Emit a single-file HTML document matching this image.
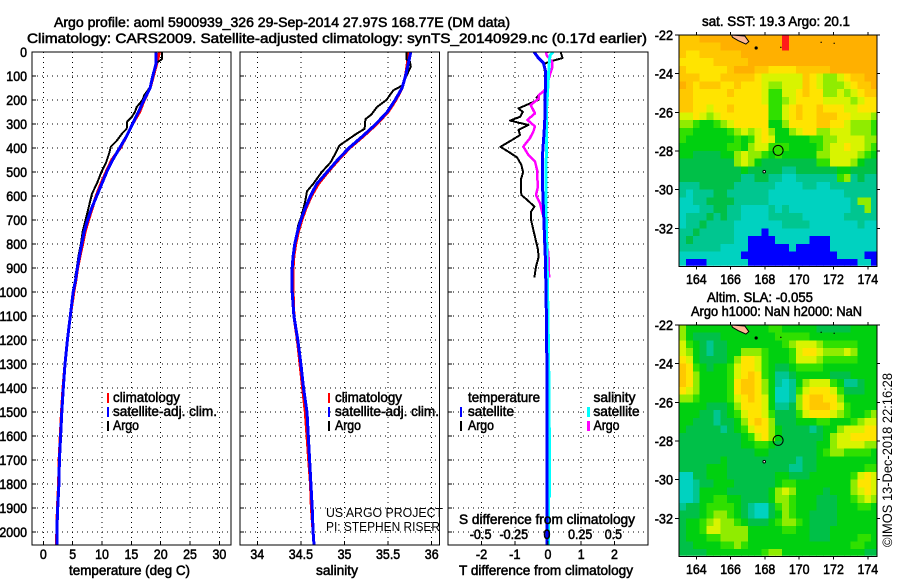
<!DOCTYPE html>
<html lang="en">
<head>
<meta charset="utf-8">
<title>Argo profile chart</title>
<style>
html,body{margin:0;padding:0;background:#fff;}
svg{display:block;}
text{font-family:"Liberation Sans",sans-serif;font-size:14px;fill:#000;stroke:#000;stroke-width:.55px;}
text.thin{stroke:none;font-size:13px;}
</style>
</head>
<body>
<svg id="chart" xmlns="http://www.w3.org/2000/svg" width="900" height="580" viewBox="0 0 900 580">
<defs>
<clipPath id="clip-p1"><rect x="32" y="52" width="199" height="493"/></clipPath>
<clipPath id="clip-p2"><rect x="240" y="52" width="199.5" height="493"/></clipPath>
<clipPath id="clip-p3"><rect x="448" y="52" width="200" height="493"/></clipPath>
<clipPath id="clip-m1"><rect x="679.5" y="35" width="197.2" height="230.7"/></clipPath>
<clipPath id="clip-m2"><rect x="679.5" y="325" width="197.2" height="230.7"/></clipPath>
</defs>
<g id="layer-maps"></g>
<g id="layer-grid"></g>
<g id="layer-series"></g>
<g id="layer-axes"></g>

<text x="54" y="27" textLength="456" lengthAdjust="spacingAndGlyphs">Argo profile: aoml 5900939_326 29-Sep-2014 27.97S 168.77E (DM data)</text>
<text x="27" y="43" textLength="620" lengthAdjust="spacingAndGlyphs">Climatology: CARS2009. Satellite-adjusted climatology: synTS_20140929.nc (0.17d earlier)</text>

<text x="69" y="575" textLength="121" lengthAdjust="spacingAndGlyphs">temperature (deg C)</text>
<text x="316" y="575" textLength="42" lengthAdjust="spacingAndGlyphs">salinity</text>
<text x="459" y="575" textLength="174" lengthAdjust="spacingAndGlyphs">T difference from climatology</text>
<text x="459" y="524" textLength="176" lengthAdjust="spacingAndGlyphs">S difference from climatology</text>

<g>
<rect x="107" y="393" width="2" height="10" fill="#ff0000"/>
<rect x="107" y="407" width="2" height="10" fill="#0000ff"/>
<rect x="107" y="421" width="2" height="10" fill="#000"/>
<text x="113" y="402" textLength="67" lengthAdjust="spacingAndGlyphs">climatology</text>
<text x="113" y="416" textLength="104" lengthAdjust="spacingAndGlyphs">satellite-adj. clim.</text>
<text x="113" y="430" textLength="26" lengthAdjust="spacingAndGlyphs">Argo</text>
</g>
<g>
<rect x="328" y="393" width="2" height="10" fill="#ff0000"/>
<rect x="328" y="407" width="2" height="10" fill="#0000ff"/>
<rect x="328" y="421" width="2" height="10" fill="#000"/>
<text x="335" y="402" textLength="67" lengthAdjust="spacingAndGlyphs">climatology</text>
<text x="335" y="416" textLength="104" lengthAdjust="spacingAndGlyphs">satellite-adj. clim.</text>
<text x="335" y="430" textLength="26" lengthAdjust="spacingAndGlyphs">Argo</text>
</g>
<text class="thin" x="326" y="517" textLength="117" lengthAdjust="spacingAndGlyphs">US ARGO PROJECT</text>
<text class="thin" x="326" y="531" textLength="114" lengthAdjust="spacingAndGlyphs">PI: STEPHEN RISER</text>

<g>
<text x="468" y="402" textLength="72" lengthAdjust="spacingAndGlyphs">temperature</text>
<rect x="460" y="407" width="2" height="10" fill="#0000ff"/>
<text x="468" y="416" textLength="46" lengthAdjust="spacingAndGlyphs">satellite</text>
<rect x="460" y="421" width="2" height="10" fill="#000"/>
<text x="468" y="430" textLength="26" lengthAdjust="spacingAndGlyphs">Argo</text>
<text x="593.5" y="402" textLength="42" lengthAdjust="spacingAndGlyphs">salinity</text>
<rect x="587" y="407" width="3" height="10" fill="#00ffff"/>
<text x="593.5" y="416" textLength="46" lengthAdjust="spacingAndGlyphs">satellite</text>
<rect x="587" y="421" width="3" height="10" fill="#ff00ff"/>
<text x="593.5" y="430" textLength="26" lengthAdjust="spacingAndGlyphs">Argo</text>
</g>

<text x="702" y="26" textLength="148" lengthAdjust="spacingAndGlyphs">sat. SST: 19.3 Argo: 20.1</text>
<text x="707" y="302" textLength="106" lengthAdjust="spacingAndGlyphs">Altim. SLA: -0.055</text>
<text x="691" y="316" textLength="171" lengthAdjust="spacingAndGlyphs">Argo h1000: NaN h2000: NaN</text>
<text class="thin" transform="translate(892 547) rotate(-90)" textLength="174" lengthAdjust="spacingAndGlyphs" style="font-size:14px">©IMOS 13-Dec-2018 22:16:28</text>
</svg>

<script>
// ---------- axis tick labels ----------
const depthTicks = [0,100,200,300,400,500,600,700,800,900,1000,1100,1200,1300,1400,1500,1600,1700,1800,1900,2000];
const tempTicks = [0,5,10,15,20,25,30];
const salTicks = [34,34.5,35,35.5,36];
const tDiffTicks = [-2,-1,0,1,2];
const sDiffTicks = [-0.5,-0.25,0,0.25,0.5];
const lonTicks = [164,166,168,170,172,174];
const latTicks = [-22,-24,-26,-28,-30,-32];

// ---------- temperature / salinity profiles ----------
const argoDepth = [0,30,45,50,100,150,180,200,230,250,270,290,320,340,370,395,420,460,500,550,590,640,690,750,800,850,900,940];
const argoTemp = [20.2,20.2,19.3,19.2,18.75,18.1,17.2,16.9,15.9,15.6,15.1,14.3,14.2,13.4,12.5,11.5,11.25,10.7,9.9,9.1,8.3,7.8,7.3,6.7,6.4,6.0,5.7,5.4];
const argoSalDepth = [0,30,40,60,100,140,160,180,200,230,260,280,320,340,360,390,420,460,500,550,580,620,680,720,780,850,900,930];
const argoSal = [35.71,35.71,35.75,35.76,35.71,35.66,35.56,35.52,35.48,35.37,35.31,35.24,35.23,35.14,35.06,34.94,34.9,34.84,34.74,34.64,34.57,34.55,34.51,34.47,34.44,34.41,34.405,34.4];

const climDepth = [0,50,100,150,200,250,300,350,400,450,500,550,600,650,700,750,800,850,900,950,1000,1100,1200,1300,1400,1500,1600,1700,1800,1900,2000,2054];
const climTemp = [19.8,19.3,18.75,18.2,17.2,16.4,15.2,14.2,13.1,11.65,10.7,9.8,9.0,8.35,7.7,7.1,6.7,6.25,5.85,5.55,5.2,4.6,4.1,3.7,3.35,3.1,2.9,2.7,2.6,2.4,2.3,2.25];
const satTemp = [19.2,19.2,18.65,18.2,17.15,16.2,15.2,14.2,13,11.8,10.8,9.95,9.1,8.25,7.55,6.95,6.55,6.15,5.8,5.5,5.1,4.6,4.1,3.7,3.4,3.15,2.95,2.75,2.65,2.45,2.3,2.3];
const climSal = [35.72,35.72,35.7,35.66,35.59,35.5,35.37,35.22,35.06,34.93,34.81,34.7,34.62,34.56,34.51,34.47,34.44,34.42,34.41,34.41,34.41,34.42,34.46,34.49,34.52,34.55,34.57,34.59,34.61,34.62,34.64,34.65];
const satSal = [35.76,35.73,35.7,35.66,35.58,35.49,35.36,35.21,35.05,34.92,34.8,34.68,34.61,34.55,34.5,34.46,34.43,34.41,34.4,34.4,34.4,34.42,34.465,34.5,34.53,34.57,34.585,34.6,34.615,34.63,34.64,34.65];

// ---------- difference panel ----------
const diffArgoDepth = [0,25,36,45,50,100,160,180,190,200,214,235,250,270,286,304,325,346,367,395,415,439,471,501,533,568,596,617,644,665,700,742,783,818,853,894,939];
const diffArgoT = [0.38,0.44,0.16,-0.04,-0.12,-0.08,-0.1,-0.29,-0.34,-0.29,-0.54,-0.89,-0.76,-0.84,-1.14,-0.59,-0.89,-0.84,-1.09,-1.43,-1.2,-0.93,-0.8,-0.75,-0.82,-0.82,-0.8,-0.62,-0.41,-0.51,-0.51,-0.44,-0.37,-0.31,-0.28,-0.36,-0.41];
const diffMagDepth = [0,14,40,68,103,144,158,180,193,221,256,283,310,331,359,394,428,456,497,567,596,631,686,728,783,839,939];
const diffMagS = [-0.015,-0.01,0.03,0.03,0.01,-0.01,-0.02,-0.07,-0.068,-0.13,-0.098,-0.155,-0.098,-0.11,-0.136,-0.186,-0.148,-0.098,-0.08,-0.078,-0.09,-0.06,-0.035,-0.022,-0.015,0.003,0.008];
const diffCyanDepth = [0,14,42,83,228,367,575,644,783,922,1100,1300,1500,1700,1850,1860,2054];
const diffCyanS = [0.04,0.015,0.01,0.005,-0.01,-0.012,-0.015,-0.015,-0.01,-0.005,0,0.005,0.008,0.012,0.012,0.004,0.004];
const diffBlueDepth = [0,25,45,76,158,297,436,575,714,853,992,1200,1500,1800,2054];
const diffBlueT = [-0.42,-0.29,-0.14,-0.08,-0.08,-0.1,-0.17,-0.16,-0.12,-0.08,-0.06,-0.04,-0.03,-0.03,-0.03];

// ---------- map grids (colour-level per 0.4 degree cell, rows north to south) ----------
const mapLonStart = 163;
const mapLatStart = -22;
const mapCellDeg = 0.4;
const levelColors = ['#0000ff','#00d2c0','#00c690','#00c048','#00d010','#30e000','#90ec00','#d8f400','#ffe400','#ffc800','#ffb000','#ff1a1a'];
const sstGrid = [
[9,9,9,10,10,10,10,10,10,10,10,10,10,10,10,11,10,10,10,10,10,10,10,10,10,10,10,10,10],
[9,9,9,9,9,9,10,10,10,10,10,10,10,10,10,11,10,10,10,10,10,10,10,10,10,10,10,10,10],
[9,8,8,9,9,9,9,9,9,10,10,10,10,10,10,10,10,10,10,10,10,10,10,10,10,10,10,10,10],
[8,8,8,8,8,9,9,9,9,9,10,10,10,10,10,10,10,10,10,10,10,10,10,10,10,10,10,10,10],
[9,8,8,8,8,8,8,9,10,10,10,9,9,8,8,8,8,9,9,9,9,9,10,10,10,10,10,10,10],
[9,9,9,8,8,8,9,9,9,9,9,8,7,7,7,7,7,7,9,8,7,6,6,7,8,9,9,10,10],
[10,9,8,9,9,9,8,8,9,8,8,8,7,6,6,7,7,7,9,8,7,6,6,6,7,8,9,9,10],
[9,9,8,8,8,8,8,9,8,8,8,8,7,5,5,7,7,8,9,8,8,6,6,7,6,7,8,9,9],
[9,9,8,8,8,8,8,8,8,8,8,8,7,5,5,6,7,8,8,8,8,7,7,7,7,6,7,8,8],
[9,9,8,8,7,8,8,9,8,8,8,8,8,5,5,7,8,9,8,8,9,8,8,8,7,7,8,8,8],
[7,7,8,7,6,7,8,8,8,8,8,8,8,5,5,7,8,9,8,8,9,9,9,8,8,7,7,7,6],
[6,6,5,4,4,5,6,7,8,8,8,8,8,4,4,6,8,8,8,8,9,9,8,8,7,6,6,6,5],
[5,5,4,4,4,4,4,5,6,7,6,7,8,6,4,4,6,7,8,8,6,6,7,7,7,6,6,6,5],
[5,4,4,4,4,4,4,4,5,4,5,7,8,7,4,4,4,4,4,5,5,6,6,7,7,7,7,6,6],
[4,4,4,4,4,4,4,5,5,4,6,7,7,5,5,5,4,4,4,4,5,6,7,7,8,7,7,6,5],
[4,4,3,3,3,3,4,4,6,7,6,6,5,4,5,4,4,4,4,4,6,6,7,7,7,7,6,5,4],
[3,3,3,3,3,3,3,3,6,7,6,4,3,3,3,3,3,3,3,3,5,5,7,7,7,6,4,3,3],
[3,3,3,3,3,3,3,3,3,4,3,3,3,3,3,2,2,3,3,3,3,3,3,4,4,3,3,3,3],
[3,3,3,3,3,3,3,3,3,2,2,3,3,2,2,1,1,2,2,2,2,2,2,5,6,2,3,2,2],
[2,2,2,3,3,3,3,3,2,2,2,2,2,2,1,1,1,1,2,2,1,1,2,2,2,2,2,2,2],
[2,1,2,2,2,3,3,2,2,2,2,2,2,1,1,1,1,1,1,1,1,1,1,1,2,2,2,2,2],
[1,1,2,2,3,3,3,3,2,2,2,2,2,1,1,1,1,1,1,1,1,1,1,1,1,2,6,6,2],
[1,1,1,2,2,3,3,2,2,1,1,1,1,2,1,2,1,1,1,1,1,1,1,1,1,2,2,6,2],
[1,2,2,2,3,2,3,2,2,1,1,1,1,2,2,2,2,2,1,1,1,1,1,1,2,2,2,2,2],
[1,2,2,3,2,2,2,2,1,1,1,1,1,1,1,2,2,2,2,1,1,1,1,1,1,1,2,1,1],
[2,2,3,2,2,2,2,2,1,1,1,1,0,1,1,1,1,1,1,1,1,1,1,1,1,1,1,1,1],
[2,3,2,2,2,2,2,2,1,1,0,0,0,0,1,1,1,1,1,0,0,0,1,1,1,1,1,1,1],
[2,2,2,2,2,2,1,1,1,1,0,0,0,0,0,0,1,0,0,0,0,0,1,1,1,1,1,1,1],
[1,1,1,1,1,1,1,1,1,0,0,0,0,0,0,0,0,0,0,0,0,0,0,1,1,1,1,0,0],
[1,0,0,0,1,1,1,1,1,1,0,0,0,0,0,0,0,0,0,0,0,0,0,0,0,0,1,1,0]
];
const slaGrid = [
[6,4,4,4,4,4,4,4,4,4,4,4,4,5,5,4,4,4,4,4,3,3,3,3,3,4,4,4,4],
[6,4,3,3,3,3,4,4,4,4,4,4,4,4,5,5,5,5,5,4,4,4,4,4,4,4,4,4,4],
[7,5,4,3,2,3,3,4,4,4,4,4,4,4,4,5,6,7,7,7,6,5,5,5,5,5,4,4,4],
[7,6,4,3,2,3,3,4,4,6,6,6,5,4,4,4,5,7,8,8,7,6,6,6,7,6,4,4,4],
[8,7,4,3,3,3,3,4,6,8,8,7,5,4,4,4,5,7,7,7,6,5,5,5,5,5,4,4,4],
[9,8,5,4,3,4,4,5,7,8,8,7,5,4,3,3,4,5,5,5,5,4,4,4,4,4,4,4,4],
[9,8,6,4,4,4,4,5,7,8,9,8,5,4,2,2,3,4,4,4,4,4,3,3,3,4,4,4,4],
[9,8,6,4,4,4,4,5,8,9,9,8,6,4,2,1,2,4,6,7,7,7,5,4,2,2,3,4,4],
[8,7,6,4,4,4,4,5,8,9,9,8,6,4,1,1,2,5,7,8,8,8,7,5,3,3,3,4,4],
[6,6,5,4,4,4,4,5,7,8,9,8,7,4,1,1,2,6,8,9,9,8,8,6,4,4,4,4,4],
[4,4,4,4,3,3,3,4,6,8,8,8,7,4,2,2,3,6,8,9,9,9,8,7,5,4,4,4,4],
[4,4,4,3,3,2,3,4,5,7,8,8,7,5,3,3,3,5,7,8,8,8,7,6,5,4,4,5,6],
[4,4,3,3,3,2,3,3,4,6,8,9,8,6,3,3,3,4,4,4,5,5,4,4,4,5,6,7,7],
[4,3,3,3,3,3,2,3,4,5,7,8,8,6,4,3,3,3,3,2,3,4,4,6,7,7,7,8,8],
[3,3,3,3,3,3,3,3,3,4,5,7,8,6,4,3,3,3,3,3,3,4,6,7,7,8,8,8,8],
[3,3,3,3,3,3,3,3,3,4,4,5,5,4,3,3,3,3,3,3,4,4,6,7,7,7,7,6,6],
[3,3,3,3,3,3,3,3,3,3,3,4,4,3,3,3,3,3,3,3,4,5,6,6,5,5,5,5,4],
[3,3,3,3,3,3,4,3,3,3,3,3,3,3,3,3,3,2,3,3,4,4,4,4,4,4,4,4,4],
[3,3,3,3,4,4,4,3,3,3,3,3,3,3,3,3,2,2,3,3,4,4,4,4,4,4,4,5,5],
[1,1,3,3,4,4,4,3,3,3,3,3,3,3,4,4,3,3,3,4,4,4,4,4,4,5,7,8,7],
[1,1,2,3,3,4,4,4,3,3,3,3,3,3,4,5,5,4,4,4,4,4,4,4,4,6,8,8,7],
[1,1,2,4,4,4,4,3,3,3,3,3,3,4,6,7,6,4,4,4,4,3,4,4,4,6,7,8,7],
[1,1,2,4,4,5,5,4,4,3,3,3,3,4,6,6,5,4,4,4,3,3,3,4,4,5,6,7,6],
[2,3,3,4,5,5,5,5,4,3,2,1,1,3,5,6,5,4,4,4,3,3,3,4,4,4,5,5,4],
[3,3,3,4,5,6,6,5,4,3,2,1,1,3,4,6,5,4,4,3,3,3,3,4,4,4,4,4,4],
[3,4,4,5,6,7,6,6,5,4,3,3,3,4,5,6,6,5,4,3,3,3,3,4,4,4,4,4,4],
[3,4,4,5,7,7,6,6,6,6,4,4,4,4,4,5,5,4,4,3,3,3,4,4,4,4,4,4,4],
[3,4,4,4,5,5,6,6,6,6,4,4,4,4,4,4,4,4,4,3,3,3,4,4,4,4,5,5,4],
[3,3,4,4,4,4,5,5,6,5,4,4,4,4,4,4,4,4,4,4,4,4,4,4,4,5,5,4,4],
[3,3,3,3,4,4,4,4,4,4,4,4,5,6,6,4,4,4,4,4,4,4,4,4,4,4,4,3,3]
];
const argoLon = [168.77];
const argoLat = [-27.97];
const islandLon = [166.05,166.83,167.06,166.89,166.44,166.11];
const islandLat = [-22,-22.05,-22.34,-22.47,-22.29,-22.12];
const isletLon = [167.49,168.93,171.28,172.04];
const isletLat = [-22.67,-22.64,-22.38,-22.43];

// ---------- axis functions ----------
const depthY = d => 52 + 0.24 * d;
const tempX = t => 43.3 + 5.87 * t;
const salX = s => 257.3 + 87.2 * (s - 34);
const tDiffX = t => 548 + 33.2 * t;
const sDiffX = s => 548 + 132.8 * s;
const lonX = lon => 696.3 + 17.15 * (lon - 164);
const latY = (lat, top) => top + 19.33 * (-22 - lat);

const SVGNS = 'http://www.w3.org/2000/svg';
function make(tag, attrs, parent, name) {
  const el = document.createElementNS(SVGNS, tag);
  for (const k in attrs) el.setAttribute(k, attrs[k]);
  
  
  parent.appendChild(el);
  return el;
}
function labelWidth(s) {
  let w = 0;
  for (const ch of s) w += ch === '.' ? 3.5 : ch === '-' ? 4.5 : 6.9;
  return w;
}
function label(parent, name, str, x, y, anchor) {
  const s = String(str);
  const w = labelWidth(s);
  const x0 = anchor === 'end' ? x - w : anchor === 'middle' ? x - w / 2 : x;
  const el = make('text', {x: x0, y: y, textLength: w, lengthAdjust: 'spacingAndGlyphs'}, parent, name);
  el.textContent = s;
  return el;
}
const gridLayer = document.getElementById('layer-grid');
const seriesLayer = document.getElementById('layer-series');
const axesLayer = document.getElementById('layer-axes');
const mapLayer = document.getElementById('layer-maps');

function line(parent, name, x1, y1, x2, y2, extra) {
  const a = Object.assign({x1: x1, y1: y1, x2: x2, y2: y2, stroke: '#000', 'stroke-width': 1, 'shape-rendering': 'crispEdges'}, extra || {});
  return make('line', a, parent, name);
}
function frame(parent, name, x, y, w, h) {
  return make('rect', {x: x, y: y, width: w, height: h, fill: 'none', stroke: '#000', 'stroke-width': 1, 'shape-rendering': 'crispEdges'}, parent, name);
}
function profile(name, depths, values, xf, color, width, clip) {
  const pts = depths.map((d, i) => xf(values[i]).toFixed(1) + ',' + depthY(d).toFixed(1)).join(' ');
  return make('polyline', {points: pts, fill: 'none', stroke: color, 'stroke-width': width, 'clip-path': 'url(#' + clip + ')', 'shape-rendering': 'crispEdges', 'stroke-linejoin': 'round'}, seriesLayer, name);
}

// ---------- profile panels ----------
const panels = [
  {id: 'temperature', x0: 32, x1: 231, ticks: tempTicks, xf: tempX},
  {id: 'salinity', x0: 240, x1: 439.5, ticks: salTicks, xf: salX},
  {id: 'difference', x0: 448, x1: 648, ticks: tDiffTicks, xf: tDiffX}
];
const dots = {'stroke-dasharray': '1 4'};
panels.forEach(p => {
  p.ticks.forEach(t => {
    const x = p.xf(t);
    line(gridLayer, p.id + '-gridline-v', x, 52, x, 545, dots);
    line(axesLayer, p.id + '-tick-x', x, 545, x, 541);
    label(axesLayer, p.id + '-tick-label', t, x, 559, 'middle');
  });
  depthTicks.forEach(d => {
    const y = depthY(d);
    line(gridLayer, p.id + '-gridline-h', p.x0, y, p.x1, y, dots);
    line(axesLayer, p.id + '-tick-y', p.x0, y, p.x0 + 4, y);
  });
  frame(axesLayer, p.id + '-panel-frame', p.x0, 52, p.x1 - p.x0, 493);
});
depthTicks.forEach(d => {
  label(axesLayer, 'depth-tick-label', d, 27, depthY(d) + 5, 'end');
});
sDiffTicks.forEach(s => {
  label(axesLayer, 's-difference-tick-label', s, sDiffX(s) - 1, 539, 'middle');
});

profile('temperature-climatology-line', climDepth, climTemp, tempX, '#ff0000', 3, 'clip-p1');
profile('temperature-argo-line', argoDepth, argoTemp, tempX, '#000', 2, 'clip-p1');
profile('temperature-satellite-line', climDepth, satTemp, tempX, '#0000ff', 3, 'clip-p1');
profile('salinity-climatology-line', climDepth, climSal, salX, '#ff0000', 3, 'clip-p2');
profile('salinity-argo-line', argoSalDepth, argoSal, salX, '#000', 2, 'clip-p2');
profile('salinity-satellite-line', climDepth, satSal, salX, '#0000ff', 3, 'clip-p2');
profile('t-difference-argo-line', diffArgoDepth, diffArgoT, tDiffX, '#000', 2, 'clip-p3');
profile('s-difference-argo-line', diffMagDepth, diffMagS, sDiffX, '#ff00ff', 2.5, 'clip-p3');
profile('s-difference-satellite-line', diffCyanDepth, diffCyanS, sDiffX, '#00ffff', 3, 'clip-p3');
profile('t-difference-satellite-line', diffBlueDepth, diffBlueT, tDiffX, '#0000ff', 3, 'clip-p3');

// ---------- maps ----------
function drawMap(id, grid, top, clip) {
  const g = make('g', {'clip-path': 'url(#' + clip + ')', 'shape-rendering': 'crispEdges'}, mapLayer, id + '-heatmap');
  const y0 = lat => latY(lat, top);
  grid.forEach((row, r) => {
    row.forEach((v, c) => {
      const lonA = mapLonStart + c * mapCellDeg;
      const latA = mapLatStart - r * mapCellDeg;
      const x = lonX(lonA);
      const y = y0(latA);
      const cell = make('rect', {x: x, y: y, width: lonX(lonA + mapCellDeg) - x + 0.5, height: y0(latA - mapCellDeg) - y + 0.5, fill: levelColors[v]}, g, 'map-cell');
      cell.setAttribute('data-row', r);
    });
  });
  const pts = islandLon.map((lon, i) => lonX(lon).toFixed(1) + ',' + y0(islandLat[i]).toFixed(1)).join(' ');
  make('polygon', {points: pts, fill: '#ffb894', stroke: '#000', 'stroke-width': 1, 'clip-path': 'url(#' + clip + ')'}, mapLayer, 'coastline-island');
  isletLon.forEach((lon, i) => {
    make('circle', {cx: lonX(lon), cy: y0(isletLat[i]), r: i === 0 ? 1.6 : 0.7, fill: '#000'}, mapLayer, 'coastline-islet');
  });
  make('circle', {cx: lonX(167.96), cy: y0(-29.07), r: 1.3, fill: '#fff', stroke: '#000', 'stroke-width': 1}, mapLayer, 'norfolk-island');
  make('circle', {cx: lonX(argoLon[0]), cy: y0(argoLat[0]), r: 5, fill: 'none', stroke: '#000', 'stroke-width': 1}, mapLayer, 'argo-position-marker');

  const bottom = top + 231.7;
  frame(mapLayer, id + '-map-frame', 679, top, 198, 231.7);
  lonTicks.forEach(lon => {
    const x = lonX(lon);
    line(mapLayer, id + '-tick-top', x, top, x, top - 3);
    line(mapLayer, id + '-tick-bottom', x, bottom, x, bottom + 3);
    label(mapLayer, id + '-lon-label', lon, x, bottom + 17.5, 'middle');
  });
  latTicks.forEach(lat => {
    const y = y0(lat);
    line(mapLayer, id + '-tick-left', 679, y, 675, y);
    line(mapLayer, id + '-tick-right', 877, y, 880, y);
    label(mapLayer, id + '-lat-label', lat, 673, y + 5, 'end');
  });
}
drawMap('sst', sstGrid, 35, 'clip-m1');
drawMap('sla', slaGrid, 325, 'clip-m2');
</script>
</body>
</html>
